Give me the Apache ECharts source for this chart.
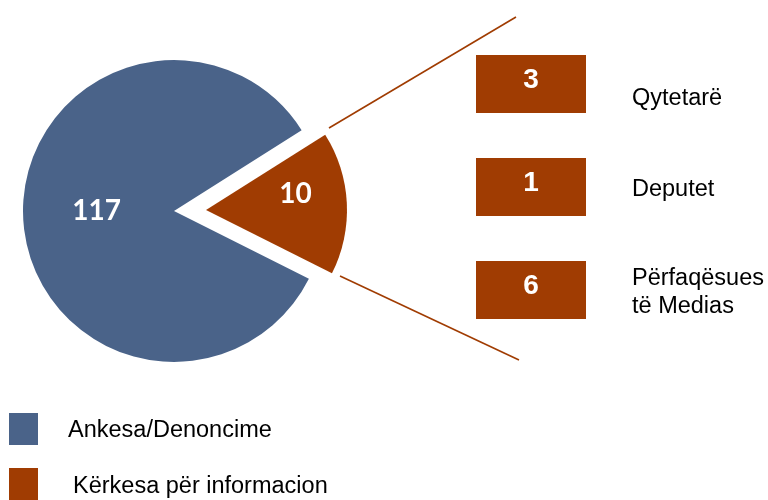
<!DOCTYPE html>
<html>
<head>
<meta charset="utf-8">
<script src="https://cdn.jsdelivr.net/npm/echarts@6/dist/echarts.min.js"></script>
<style>
  html, body { margin: 0; padding: 0; background: #fff; }
  #chart { width: 768px; height: 500px; }
</style>
</head>
<body>
<div id="chart"></div>
<script>
// kryesore: ankesa vs kërkesa
const mainNames = ['Ankesa/Denoncime', 'Kërkesa për informacion']
const mainValues = [117, 10]

// ndarja e kërkesave
const subNames = ['Qytetarë', 'Deputet', 'Përfaqësues\ntë Medias']
const subValues = [3, 1, 6]

const BLUE = '#4a6389'
const BROWN = '#a03c02'
const NONE = 'rgba(0,0,0,0)'
const FONT = '"Liberation Sans", Arial, sans-serif'
const FS = 23.5

const chart = echarts.init(document.getElementById('chart'))

// one pie per visible slice so each can have its own centre/radius
const pieData = (visibleIdx) =>
  mainNames.map((name, i) => ({
    name,
    value: mainValues[i],
    itemStyle: { color: i === visibleIdx ? (i === 0 ? BLUE : BROWN) : NONE },
    label: { show: i === visibleIdx },
  }))

const pieBase = {
  type: 'pie',
  startAngle: 333.3,
  minAngle: 59,
  silent: true,
  emphasis: { disabled: true },
  label: {
    position: 'inside',
    formatter: '{c}',
    color: '#fff',
    fontFamily: 'Lato, sans-serif',
    fontWeight: 'bold',
    fontSize: 28,
  },
  labelLine: { show: false },
}

const option = {
  animation: false,
  backgroundColor: '#fff',
  textStyle: { fontFamily: FONT },
  legend: {
    orient: 'vertical',
    left: 9,
    top: 413,
    padding: 0,
    icon: 'rect',
    itemWidth: 29,
    itemHeight: 32,
    itemGap: 23,
    selectedMode: false,
    data: [
      { name: mainNames[0], itemStyle: { color: BLUE } },
      { name: mainNames[1], itemStyle: { color: BROWN } },
    ],
    formatter: (name) => (name === mainNames[0] ? `{a|${name}}` : `{b|${name}}`),
    textStyle: {
      fontFamily: FONT,
      fontSize: FS,
      color: '#000',
      rich: {
        a: { fontFamily: FONT, fontSize: FS, color: '#000', padding: [3, 0, 0, 25] },
        b: { fontFamily: FONT, fontSize: FS, color: '#000', padding: [6, 0, 0, 30] },
      },
    },
  },
  grid: { left: 476, width: 110, top: 32.5, height: 309 },
  xAxis: { type: 'category', data: [''], show: false },
  yAxis: {
    type: 'category',
    data: subNames,
    inverse: true,
    position: 'right',
    axisLine: { show: false },
    axisTick: { show: false },
    splitLine: { show: false },
    axisLabel: {
      margin: 46,
      align: 'left',
      fontFamily: FONT,
      fontSize: FS,
      lineHeight: 28,
      color: '#000',
      padding: [5, 0, 0, 0],
      formatter: (val, idx) => (idx === 0 ? `{low|${val}}` : val),
      rich: {
        low: { fontFamily: FONT, fontSize: FS, color: '#000', padding: [24, 0, 0, 0] },
      },
    },
  },
  series: [
    Object.assign({}, pieBase, {
      center: [174, 211],
      radius: 151,
      data: pieData(0),
      labelLayout: { dx: 1, dy: -4 },
    }),
    Object.assign({}, pieBase, {
      center: [206, 210],
      radius: 141,
      data: pieData(1),
      labelLayout: { dx: 16, dy: -12 },
    }),
    {
      type: 'scatter',
      silent: true,
      symbol: 'rect',
      symbolSize: [110, 58],
      itemStyle: { color: BROWN, opacity: 1 },
      emphasis: { disabled: true },
      label: {
        show: true,
        position: 'inside',
        offset: [0, -4],
        formatter: (p) => p.value[2],
        color: '#fff',
        fontFamily: FONT,
        fontWeight: 'bold',
        fontSize: 28,
      },
      data: subValues.map((v, i) => [0, i, v]),
    },
  ],
  graphic: [
    // vijat lidhëse nga feta e ndarë
    {
      type: 'line',
      silent: true,
      shape: { x1: 329, y1: 128, x2: 516, y2: 17 },
      style: { stroke: BROWN, lineWidth: 1.6 },
    },
    {
      type: 'line',
      silent: true,
      shape: { x1: 340, y1: 276, x2: 519, y2: 360 },
      style: { stroke: BROWN, lineWidth: 1.6 },
    },
  ],
}

chart.setOption(option)
</script>
</body>
</html>
